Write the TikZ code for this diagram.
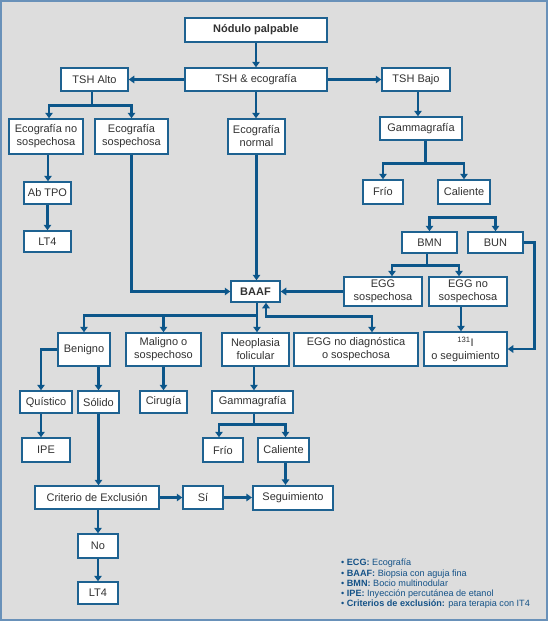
\documentclass[tikz,border=0pt]{standalone}
\usepackage{fontspec}
\setmainfont{Liberation Sans}
\usetikzlibrary{arrows.meta,calc}
\definecolor{bgc}{RGB}{221,221,221}
\definecolor{framec}{RGB}{105,145,185}
\definecolor{boxc}{RGB}{30,98,145}
\definecolor{connc}{RGB}{12,86,138}
\definecolor{txtc}{RGB}{50,50,50}
\definecolor{legc}{RGB}{20,82,135}
\tikzset{
  box/.style={draw=boxc, line width=1.5pt, fill=white, text=txtc, inner sep=0pt,
    align=center, font=\fontsize{11}{13}\selectfont},
  boxb/.style={box, line width=2.2pt},
  ln/.style={draw=connc, line width=2.6pt},
  conn/.style={ln, -{Triangle[length=5.5pt,width=7.5pt]}},
  bconn/.style={ln, {Triangle[length=5.5pt,width=7.5pt]}-{Triangle[length=5.5pt,width=7.5pt]}},
}
\begin{document}
\begin{tikzpicture}[x=1pt,y=-1pt]
\useasboundingbox (0,0) rectangle (548,621);
\draw[fill=bgc, draw=framec, line width=1.5pt] (1,1) rectangle (547,620);

% nodes
\node[boxb, minimum width=142, minimum height=24, font=\fontsize{11}{13}\selectfont\bfseries] (nod) at (256,30) {Nódulo palpable};
\node[box, minimum width=142, minimum height=23] (tsh) at (256,79.5) {TSH \& ecografía};
\node[box, minimum width=67, minimum height=23] (alto) at (94.5,79.5) {TSH Alto};
\node[box, minimum width=68, minimum height=23] (bajo) at (416,79.5) {TSH Bajo};
\node[box, minimum width=74, minimum height=35] (econo) at (46,136.5) {Ecografía no\\sospechosa};
\node[box, minimum width=73, minimum height=35] (ecos) at (131.5,136.5) {Ecografía\\sospechosa};
\node[box, minimum width=57, minimum height=35] (ecn) at (256.5,136.5) {Ecografía\\normal};
\node[box, minimum width=82, minimum height=23] (gamR) at (421,128.5) {Gammagrafía};
\node[box, minimum width=40, minimum height=24] (frioR) at (383,192) {Frío};
\node[box, minimum width=52, minimum height=24] (calR) at (464,192) {Caliente};
\node[box, minimum width=47, minimum height=22] (abtpo) at (47.5,193) {Ab TPO};
\node[box, minimum width=47, minimum height=21] (lt4a) at (47.5,241.5) {LT4};
\node[box, minimum width=49, minimum height=21, font=\fontsize{11}{13}\selectfont\bfseries] (baaf) at (255.5,291.5) {BAAF};
\node[box, minimum width=55, minimum height=21] (bmn) at (429.5,242.5) {BMN};
\node[box, minimum width=55, minimum height=21] (bun) at (495.5,242.5) {BUN};
\node[box, minimum width=78, minimum height=29] (eggs) at (383,291.5) {EGG\\sospechosa};
\node[box, minimum width=78, minimum height=29] (eggn) at (468,291.5) {EGG no\\sospechosa};
\node[box, minimum width=124, minimum height=33] (eggnd) at (356,349.5) {EGG no diagnóstica\\o sospechosa};
\node[box, minimum width=83, minimum height=34] (i131) at (465.5,349) {\textsuperscript{131}I\\o seguimiento};
\node[box, minimum width=52, minimum height=33] (ben) at (84,349.5) {Benigno};
\node[box, minimum width=75, minimum height=33] (mal) at (163.5,349.5) {Maligno o\\sospechoso};
\node[box, minimum width=67, minimum height=33] (neo) at (255.5,349.5) {Neoplasia\\folicular};
\node[box, minimum width=52, minimum height=22] (qui) at (46,402) {Quístico};
\node[box, minimum width=41, minimum height=22] (sol) at (98.5,402) {Sólido};
\node[box, minimum width=47, minimum height=22] (cir) at (163.5,402) {Cirugía};
\node[box, minimum width=81, minimum height=22] (gamM) at (252.5,402) {Gammagrafía};
\node[box, minimum width=48, minimum height=24] (ipe) at (46,450) {IPE};
\node[box, minimum width=40, minimum height=24] (frioM) at (223,450) {Frío};
\node[box, minimum width=51, minimum height=24] (calM) at (283.5,450) {Caliente};
\node[box, minimum width=124, minimum height=23] (crit) at (97,497.5) {Criterio de Exclusión};
\node[box, minimum width=40, minimum height=23] (si) at (203,497.5) {Sí};
\node[boxb, minimum width=80, minimum height=24] (seg) at (293,498) {Seguimiento};
\node[box, minimum width=40, minimum height=24] (no) at (98,546) {No};
\node[box, minimum width=40, minimum height=22] (lt4b) at (98,593) {LT4};

% legend
\node[anchor=north west, align=left, inner sep=0pt, text=legc,
  font=\fontsize{9.1}{10.1}\selectfont] (leg) at (341,559)
  {• \textbf{ECG:} Ecografía\\
   • \textbf{BAAF:} Biopsia con aguja fina\\
   • \textbf{BMN:} Bocio multinodular\\
   • \textbf{IPE:} Inyección percutánea de etanol\\
   • \textbf{Criterios de exclusión:} para terapia con IT4};

% connectors
\draw[conn] (nod.south) -- (tsh.north);
\draw[conn] (tsh.west) -- (alto.east);
\draw[conn] (tsh.east) -- (bajo.west);
\draw[conn] (tsh.south) -- (tsh.south |- ecn.north);

\draw[ln] ([xshift=-2.5pt]alto.south) -- ++(0,13.5) coordinate (ja);
\draw[conn] (ja) -| ([xshift=3pt]econo.north);
\draw[conn] (ja) -| (ecos.north);
\draw[conn] ([xshift=2pt]econo.south) -- ([xshift=2pt]econo.south |- abtpo.north);
\draw[conn] (abtpo.south) -- (lt4a.north);
\draw[conn] (ecos.south) |- (baaf.west);
\draw[conn] (ecn.south) -- (ecn.south |- baaf.north);

\draw[conn] ([xshift=2pt]bajo.south) -- ([xshift=2pt]bajo.south |- gamR.north);
\draw[ln] ([xshift=4.5pt]gamR.south) -- ++(0,23) coordinate (jg);
\draw[conn] (jg) -| (frioR.north);
\draw[conn] (jg) -| (calR.north);

\coordinate (jb) at (462,217.5);
\draw[conn] (jb) -| (bmn.north);
\draw[conn] (jb) -| (bun.north);
\draw[ln] ([xshift=-2.5pt]bmn.south) -- ++(0,12) coordinate (jm);
\draw[conn] (jm) -| ([xshift=9pt]eggs.north);
\draw[conn] (jm) -| ([xshift=-9pt]eggn.north);
\draw[conn] (eggs.west) -- (baaf.east);
\draw[conn] ([xshift=-7pt]eggn.south) -- ([xshift=-7pt]eggn.south |- i131.north);
\draw[conn] (bun.east) -- ++(11,0) |- (i131.east);

\draw[conn] ([xshift=1.5pt]baaf.south) -- ([xshift=1.5pt]baaf.south |- neo.north);
\path ([xshift=1.5pt]baaf.south) ++(0,12.5) coordinate (jbf);
\draw[conn] (jbf) -| (ben.north);
\draw[conn] (jbf) -| (mal.north);
\draw[bconn] ([xshift=10.5pt]baaf.south) -- ++(0,13.5) -| ([xshift=16pt]eggnd.north);

\draw[conn] (ben.west) -| ([xshift=-5pt]qui.north);
\draw[conn] (ben.south -| sol.north) -- (sol.north);
\draw[conn] (mal.south) -- (cir.north);
\draw[conn] ([xshift=-1.5pt]neo.south) -- ([xshift=-1.5pt]neo.south |- gamM.north);
\draw[conn] ([xshift=-5pt]qui.south) -- ([xshift=-5pt]qui.south |- ipe.north);
\draw[conn] (sol.south) -- (sol.south |- crit.north);
\draw[ln] ([xshift=1.5pt]gamM.south) -- ++(0,11) coordinate (jgm);
\draw[conn] (jgm) -| ([xshift=-4pt]frioM.north);
\draw[conn] (jgm) -| ([xshift=2pt]calM.north);
\draw[conn] ([xshift=2pt]calM.south) -- ([xshift=2pt]calM.south |- seg.north);
\draw[conn] (crit.east) -- (si.west);
\draw[conn] (si.east) -- (si.east -| seg.west);
\draw[conn] (crit.south -| no.north) -- (no.north);
\draw[conn] (no.south) -- (lt4b.north);
\end{tikzpicture}
\end{document}
